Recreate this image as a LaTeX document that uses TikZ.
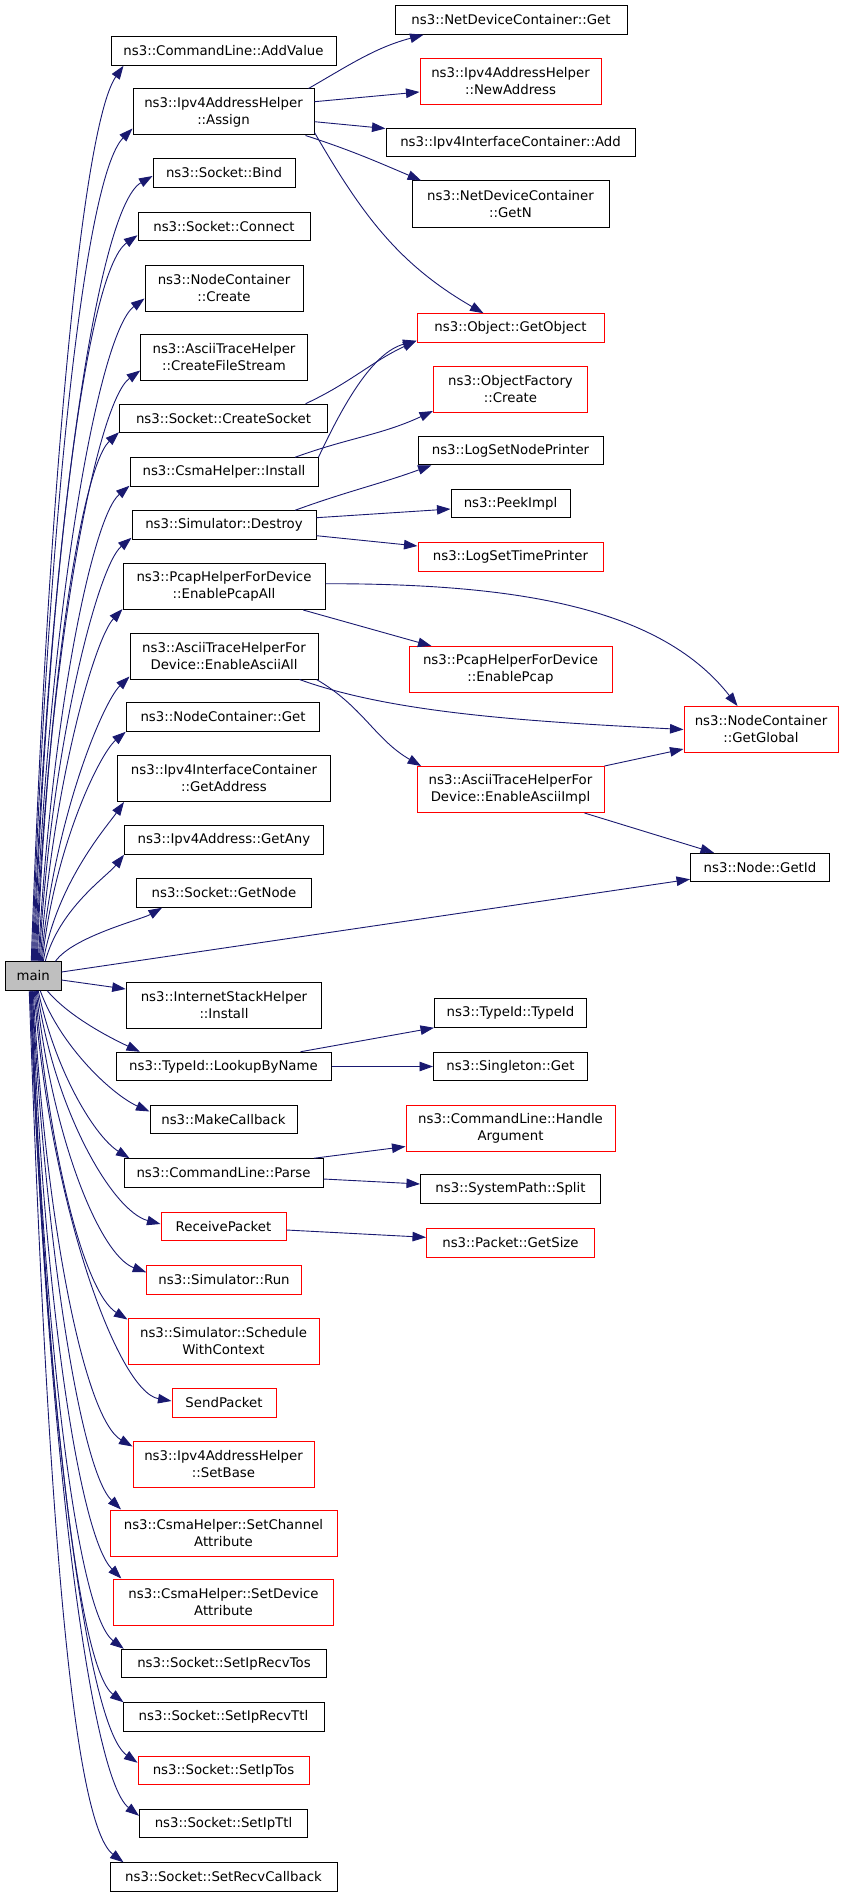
\documentclass[tikz,border=0pt]{standalone}
\usepackage{fontspec}
\setmainfont{DejaVu Sans}
\usetikzlibrary{arrows.meta}
\definecolor{edgeblue}{RGB}{25,25,112}
\definecolor{docred}{RGB}{255,0,0}
\definecolor{maingray}{RGB}{191,191,191}
\begin{document}
\begin{tikzpicture}[x=1pt, y=1pt,
			box/.style={draw=black, line width=1pt, rectangle, align=center, inner sep=0pt,
				minimum height=28.5pt, font=\fontsize{13.3}{17}\selectfont},
			redbox/.style={box, draw=docred},
			two/.style={minimum height=46pt},
			arrow/.style={-{Triangle[length=13.5pt,width=9.5pt]}, draw=edgeblue, line width=0.9pt}
			]
			\useasboundingbox (0,0) rectangle (843,-1897);
			
			% Nodes
			\node[box, fill=maingray, minimum width=55.5pt] (main) at (33.25,-976) {main};
			
			\node[box, minimum width=225pt] (addvalue) at (223.5,-51) {ns3::CommandLine::AddValue};
			\node[box, two, minimum width=181pt] (assign) at (223.5,-112) {ns3::Ipv4AddressHelper\\::Assign};
			\node[box, minimum width=142pt] (bind) at (224,-173) {ns3::Socket::Bind};
			\node[box, minimum width=172pt] (connect) at (224,-226.5) {ns3::Socket::Connect};
			\node[box, two, minimum width=158pt] (nccreate) at (224,-288) {ns3::NodeContainer\\::Create};
			\node[box, two, minimum width=166.5pt] (cfs) at (224,-357) {ns3::AsciiTraceHelper\\::CreateFileStream};
			\node[box, minimum width=208pt] (csock) at (223.5,-418.5) {ns3::Socket::CreateSocket};
			\node[box, minimum width=188pt] (csmainst) at (224,-472) {ns3::CsmaHelper::Install};
			\node[box, minimum width=184pt] (destroy) at (224,-525) {ns3::Simulator::Destroy};
			\node[box, two, minimum width=202pt] (pcapall) at (224,-586.5) {ns3::PcapHelperForDevice\\::EnablePcapAll};
			\node[box, two, minimum width=188pt] (asciiall) at (224,-656) {ns3::AsciiTraceHelperFor\\Device::EnableAsciiAll};
			\node[box, minimum width=193.5pt] (ncget) at (223,-717) {ns3::NodeContainer::Get};
			\node[box, two, minimum width=213pt] (getaddr) at (224,-778.5) {ns3::Ipv4InterfaceContainer\\::GetAddress};
			\node[box, minimum width=199pt] (getany) at (224,-840) {ns3::Ipv4Address::GetAny};
			\node[box, minimum width=175pt] (getnode) at (224,-893) {ns3::Socket::GetNode};
			\node[box, two, minimum width=195.6pt] (isinst) at (224,-1005.5) {ns3::InternetStackHelper\\::Install};
			\node[box, minimum width=215pt] (lookup) at (223.5,-1066.5) {ns3::TypeId::LookupByName};
			\node[box, minimum width=147pt] (makecb) at (223.5,-1119.5) {ns3::MakeCallback};
			\node[box, minimum width=199pt] (parse) at (223.5,-1173) {ns3::CommandLine::Parse};
			\node[redbox, minimum width=125pt] (recv) at (223.5,-1226.5) {ReceivePacket};
			\node[redbox, minimum width=154.5pt] (simrun) at (224,-1280) {ns3::Simulator::Run};
			\node[redbox, two, minimum width=191pt] (sched) at (223.5,-1341) {ns3::Simulator::Schedule\\WithContext};
			\node[redbox, minimum width=104pt] (sendpkt) at (224,-1403) {SendPacket};
			\node[redbox, two, minimum width=181pt] (setbase) at (223.5,-1464) {ns3::Ipv4AddressHelper\\::SetBase};
			\node[redbox, two, minimum width=227pt] (setchan) at (223.5,-1533) {ns3::CsmaHelper::SetChannel\\Attribute};
			\node[redbox, two, minimum width=220.5pt] (setdev) at (223.5,-1602) {ns3::CsmaHelper::SetDevice\\Attribute};
			\node[box, minimum width=204.5pt] (recvtos) at (224,-1663.5) {ns3::Socket::SetIpRecvTos};
			\node[box, minimum width=201pt] (recvttl) at (223.5,-1717) {ns3::Socket::SetIpRecvTtl};
			\node[redbox, minimum width=171pt] (iptos) at (223.5,-1770.5) {ns3::Socket::SetIpTos};
			\node[box, minimum width=168pt] (ipttl) at (223.5,-1823.5) {ns3::Socket::SetIpTtl};
			\node[box, minimum width=227pt] (recvcb) at (223.5,-1877) {ns3::Socket::SetRecvCallback};
			
			\node[box, minimum width=232pt] (ndcget) at (511,-20) {ns3::NetDeviceContainer::Get};
			\node[redbox, two, minimum width=181pt] (newaddr) at (510.5,-81.5) {ns3::Ipv4AddressHelper\\::NewAddress};
			\node[box, minimum width=249pt] (ifadd) at (510.5,-142.5) {ns3::Ipv4InterfaceContainer::Add};
			\node[box, two, minimum width=197pt] (getn) at (510.5,-204) {ns3::NetDeviceContainer\\::GetN};
			\node[redbox, minimum width=187pt] (getobj) at (510.5,-328) {ns3::Object::GetObject};
			\node[redbox, two, minimum width=154pt] (objfact) at (510.5,-389.5) {ns3::ObjectFactory\\::Create};
			\node[box, minimum width=185pt] (lognode) at (510.5,-450.5) {ns3::LogSetNodePrinter};
			\node[box, minimum width=119pt] (peek) at (510.5,-503.5) {ns3::PeekImpl};
			\node[redbox, minimum width=185pt] (logtime) at (510.5,-557) {ns3::LogSetTimePrinter};
			\node[redbox, two, minimum width=203pt] (pcap) at (510.5,-669.5) {ns3::PcapHelperForDevice\\::EnablePcap};
			\node[redbox, two, minimum width=187pt] (asciiimpl) at (510.5,-789.5) {ns3::AsciiTraceHelperFor\\Device::EnableAsciiImpl};
			\node[box, minimum width=152pt] (typeid) at (510.5,-1013) {ns3::TypeId::TypeId};
			\node[box, minimum width=154pt] (singleton) at (510.5,-1066.5) {ns3::Singleton::Get};
			\node[redbox, two, minimum width=209pt] (handlearg) at (510.5,-1128) {ns3::CommandLine::Handle\\Argument};
			\node[box, minimum width=180pt] (split) at (510.5,-1189) {ns3::SystemPath::Split};
			\node[redbox, minimum width=168pt] (getsize) at (510.5,-1243) {ns3::Packet::GetSize};
			
			\node[redbox, two, minimum width=154pt] (getglobal) at (761,-729.5) {ns3::NodeContainer\\::GetGlobal};
			\node[box, minimum width=139pt] (getid) at (760,-867.5) {ns3::Node::GetId};
			
			% From main, upwards
			\draw[arrow] ([xshift=-2pt]main.north) to[out=88, in=235, out distance=450pt, in distance=74pt] ([xshift=13pt]addvalue.south west);
			\draw[arrow] ([xshift=-1pt]main.north) to[out=88, in=225, out distance=420pt, in distance=70pt] ([yshift=7pt]assign.south west);
			\draw[arrow] (main.north) to[out=88, in=210, out distance=390pt, in distance=67pt] ([yshift=-3pt]bind.west);
			\draw[arrow] ([xshift=1pt]main.north) to[out=88, in=215, out distance=365pt, in distance=64pt] ([yshift=6pt]connect.south west);
			\draw[arrow] ([xshift=2pt]main.north) to[out=88, in=217, out distance=330pt, in distance=60pt] ([yshift=13pt]nccreate.south west);
			\draw[arrow] ([xshift=3pt]main.north) to[out=88, in=216, out distance=295pt, in distance=55pt] ([yshift=10pt]cfs.south west);
			\draw[arrow] ([xshift=4pt]main.north) to[out=88, in=223, out distance=265pt, in distance=52pt] ([yshift=1pt]csock.south west);
			\draw[arrow] ([xshift=5pt]main.north) to[out=87, in=220, out distance=240pt, in distance=49pt] ([yshift=1pt]csmainst.south west);
			\draw[arrow] ([xshift=6pt]main.north) to[out=87, in=220, out distance=210pt, in distance=45pt] ([yshift=2pt]destroy.south west);
			\draw[arrow] ([xshift=7pt]main.north) to[out=86, in=227, out distance=177pt, in distance=41pt] ([yshift=1pt]pcapall.south west);
			\draw[arrow] ([xshift=8pt]main.north) to[out=85, in=224, out distance=143pt, in distance=37pt] ([yshift=3pt]asciiall.south west);
			\draw[arrow] ([xshift=9pt]main.north) to[out=84, in=220, out distance=115pt, in distance=34pt] (ncget.south west);
			\draw[arrow] ([xshift=10pt]main.north) to[out=80, in=235, out distance=80pt, in distance=30pt] ([xshift=7pt]getaddr.south west);
			\draw[arrow] ([xshift=12pt]main.north) to[out=75, in=232, out distance=55pt, in distance=27pt] (getany.south west);
			\draw[arrow] ([xshift=-6pt]main.north east) to[out=55, in=210, out distance=30pt, in distance=23pt] ([xshift=26pt]getnode.south west);
			
			% From main, straight across
			\draw[arrow] ([yshift=4pt]main.east) -- ([yshift=3pt]getid.south west);
			\draw[arrow] ([yshift=-4pt]main.east) -- ([yshift=-7pt]isinst.north west);
			
			% From main, downwards
			\draw[arrow] ([xshift=14pt]main.south) to[out=-50, in=155, out distance=35pt, in distance=30pt] ([xshift=24.5pt]lookup.north west);
			\draw[arrow] ([xshift=7pt]main.south) to[out=-70, in=156, out distance=60pt, in distance=40pt] ([yshift=-6.7pt]makecb.north west);
			\draw[arrow] ([xshift=5pt]main.south) to[out=-78, in=148, out distance=85pt, in distance=40pt] ([xshift=6pt]parse.north west);
			\draw[arrow] ([xshift=4pt]main.south) to[out=-82, in=165, out distance=120pt, in distance=50pt] ([yshift=2.5pt]recv.west);
			\draw[arrow] ([xshift=3pt]main.south) to[out=-84, in=160, out distance=145pt, in distance=50pt] ([yshift=-7pt]simrun.north west);
			\draw[arrow] ([xshift=2pt]main.south) to[out=-85, in=148, out distance=170pt, in distance=50pt] ([yshift=-2pt]sched.north west);
			\draw[arrow] ([xshift=1pt]main.south) to[out=-86, in=170, out distance=210pt, in distance=55pt] ([yshift=2pt]sendpkt.west);
			\draw[arrow] (main.south) to[out=-87, in=150, out distance=235pt, in distance=55pt] ([yshift=-6pt]setbase.north west);
			\draw[arrow] ([xshift=-1pt]main.south) to[out=-87, in=136, out distance=265pt, in distance=55pt] ([xshift=11.6pt]setchan.north west);
			\draw[arrow] ([xshift=-1pt]main.south) to[out=-88, in=135, out distance=300pt, in distance=60pt] ([xshift=8.6pt]setdev.north west);
			\draw[arrow] ([xshift=-2pt]main.south) to[out=-88, in=143, out distance=335pt, in distance=60pt] ([xshift=2.5pt]recvtos.north west);
			\draw[arrow] ([xshift=-2pt]main.south) to[out=-88, in=143, out distance=360pt, in distance=60pt] ([xshift=1pt]recvttl.north west);
			\draw[arrow] ([xshift=-3pt]main.south) to[out=-88, in=145, out distance=390pt, in distance=65pt] ([yshift=-7pt]iptos.north west);
			\draw[arrow] ([xshift=-3pt]main.south) to[out=-88, in=142, out distance=415pt, in distance=65pt] ([yshift=-7pt]ipttl.north west);
			\draw[arrow] ([xshift=-4pt]main.south) to[out=-88, in=143, out distance=440pt, in distance=70pt] ([xshift=14pt]recvcb.north west);
			
			% From ns3::Ipv4AddressHelper::Assign
			\draw[arrow] ([xshift=-6pt]assign.north east) to[out=30, in=195] ([xshift=29pt]ndcget.south west);
			\draw[arrow] ([yshift=10.3pt]assign.east) -- ([yshift=-10.5pt]newaddr.west);
			\draw[arrow] ([yshift=-9.7pt]assign.east) -- ([yshift=14pt]ifadd.west);
			\draw[arrow] ([xshift=-9pt]assign.south east) to[out=-18, in=157] ([xshift=9.6pt]getn.north west);
			\draw[arrow] ([yshift=3pt]assign.south east) to[out=-60, in=150] ([xshift=67pt]getobj.north west);
			
			% From ns3::Socket::CreateSocket and ns3::CsmaHelper::Install
			\draw[arrow] ([xshift=-22.5pt]csock.north east) to[out=25, in=205] ([yshift=2pt]getobj.south west);
			\draw[arrow] (csmainst.north east) to[out=65, in=195, out distance=60pt, in distance=45pt] ([yshift=2pt]getobj.south west);
			\draw[arrow] ([xshift=-23.4pt]csmainst.north east) to[out=20, in=205] ([yshift=2pt]objfact.south west);
			
			% From ns3::Simulator::Destroy
			\draw[arrow] ([xshift=-21.4pt]destroy.north east) to[out=20, in=200] ([xshift=14pt]lognode.south west);
			\draw[arrow] ([yshift=7.3pt]destroy.east) -- ([yshift=-5.5pt]peek.west);
			\draw[arrow] ([yshift=-10.7pt]destroy.east) -- ([yshift=11pt]logtime.west);
			
			% From the pcap and ascii helpers
			\draw[arrow] ([yshift=2.8pt]pcapall.east) to[out=0, in=128, out distance=180pt, in distance=130pt] ([xshift=54pt]getglobal.north west);
			\draw[arrow] ([xshift=-22.3pt]pcapall.south east) -- ([xshift=23pt]pcap.north west);
			\draw[arrow] ([xshift=-19pt]asciiall.south east) to[out=-20, in=177, out distance=100pt, in distance=150pt] (getglobal.west);
			\draw[arrow] ([xshift=-2pt]asciiall.south east) to[out=-30, in=150] ([xshift=4.6pt]asciiimpl.north west);
			\draw[arrow] (asciiimpl.north east) -- ([yshift=4pt]getglobal.south west);
			\draw[arrow] ([xshift=-20pt]asciiimpl.south east) -- ([xshift=24pt]getid.north west);
			
			% Lower calls
			\draw[arrow] ([xshift=-31pt]lookup.north east) -- (typeid.south west);
			\draw[arrow] (lookup) -- (singleton);
			\draw[arrow] ([xshift=-9.5pt]parse.north east) -- ([yshift=5pt]handlearg.south west);
			\draw[arrow] ([yshift=-6pt]parse.east) -- ([yshift=5pt]split.west);
			\draw[arrow] ([yshift=-3.5pt]recv.east) -- ([yshift=5.7pt]getsize.west);
		\end{tikzpicture}
\end{document}
